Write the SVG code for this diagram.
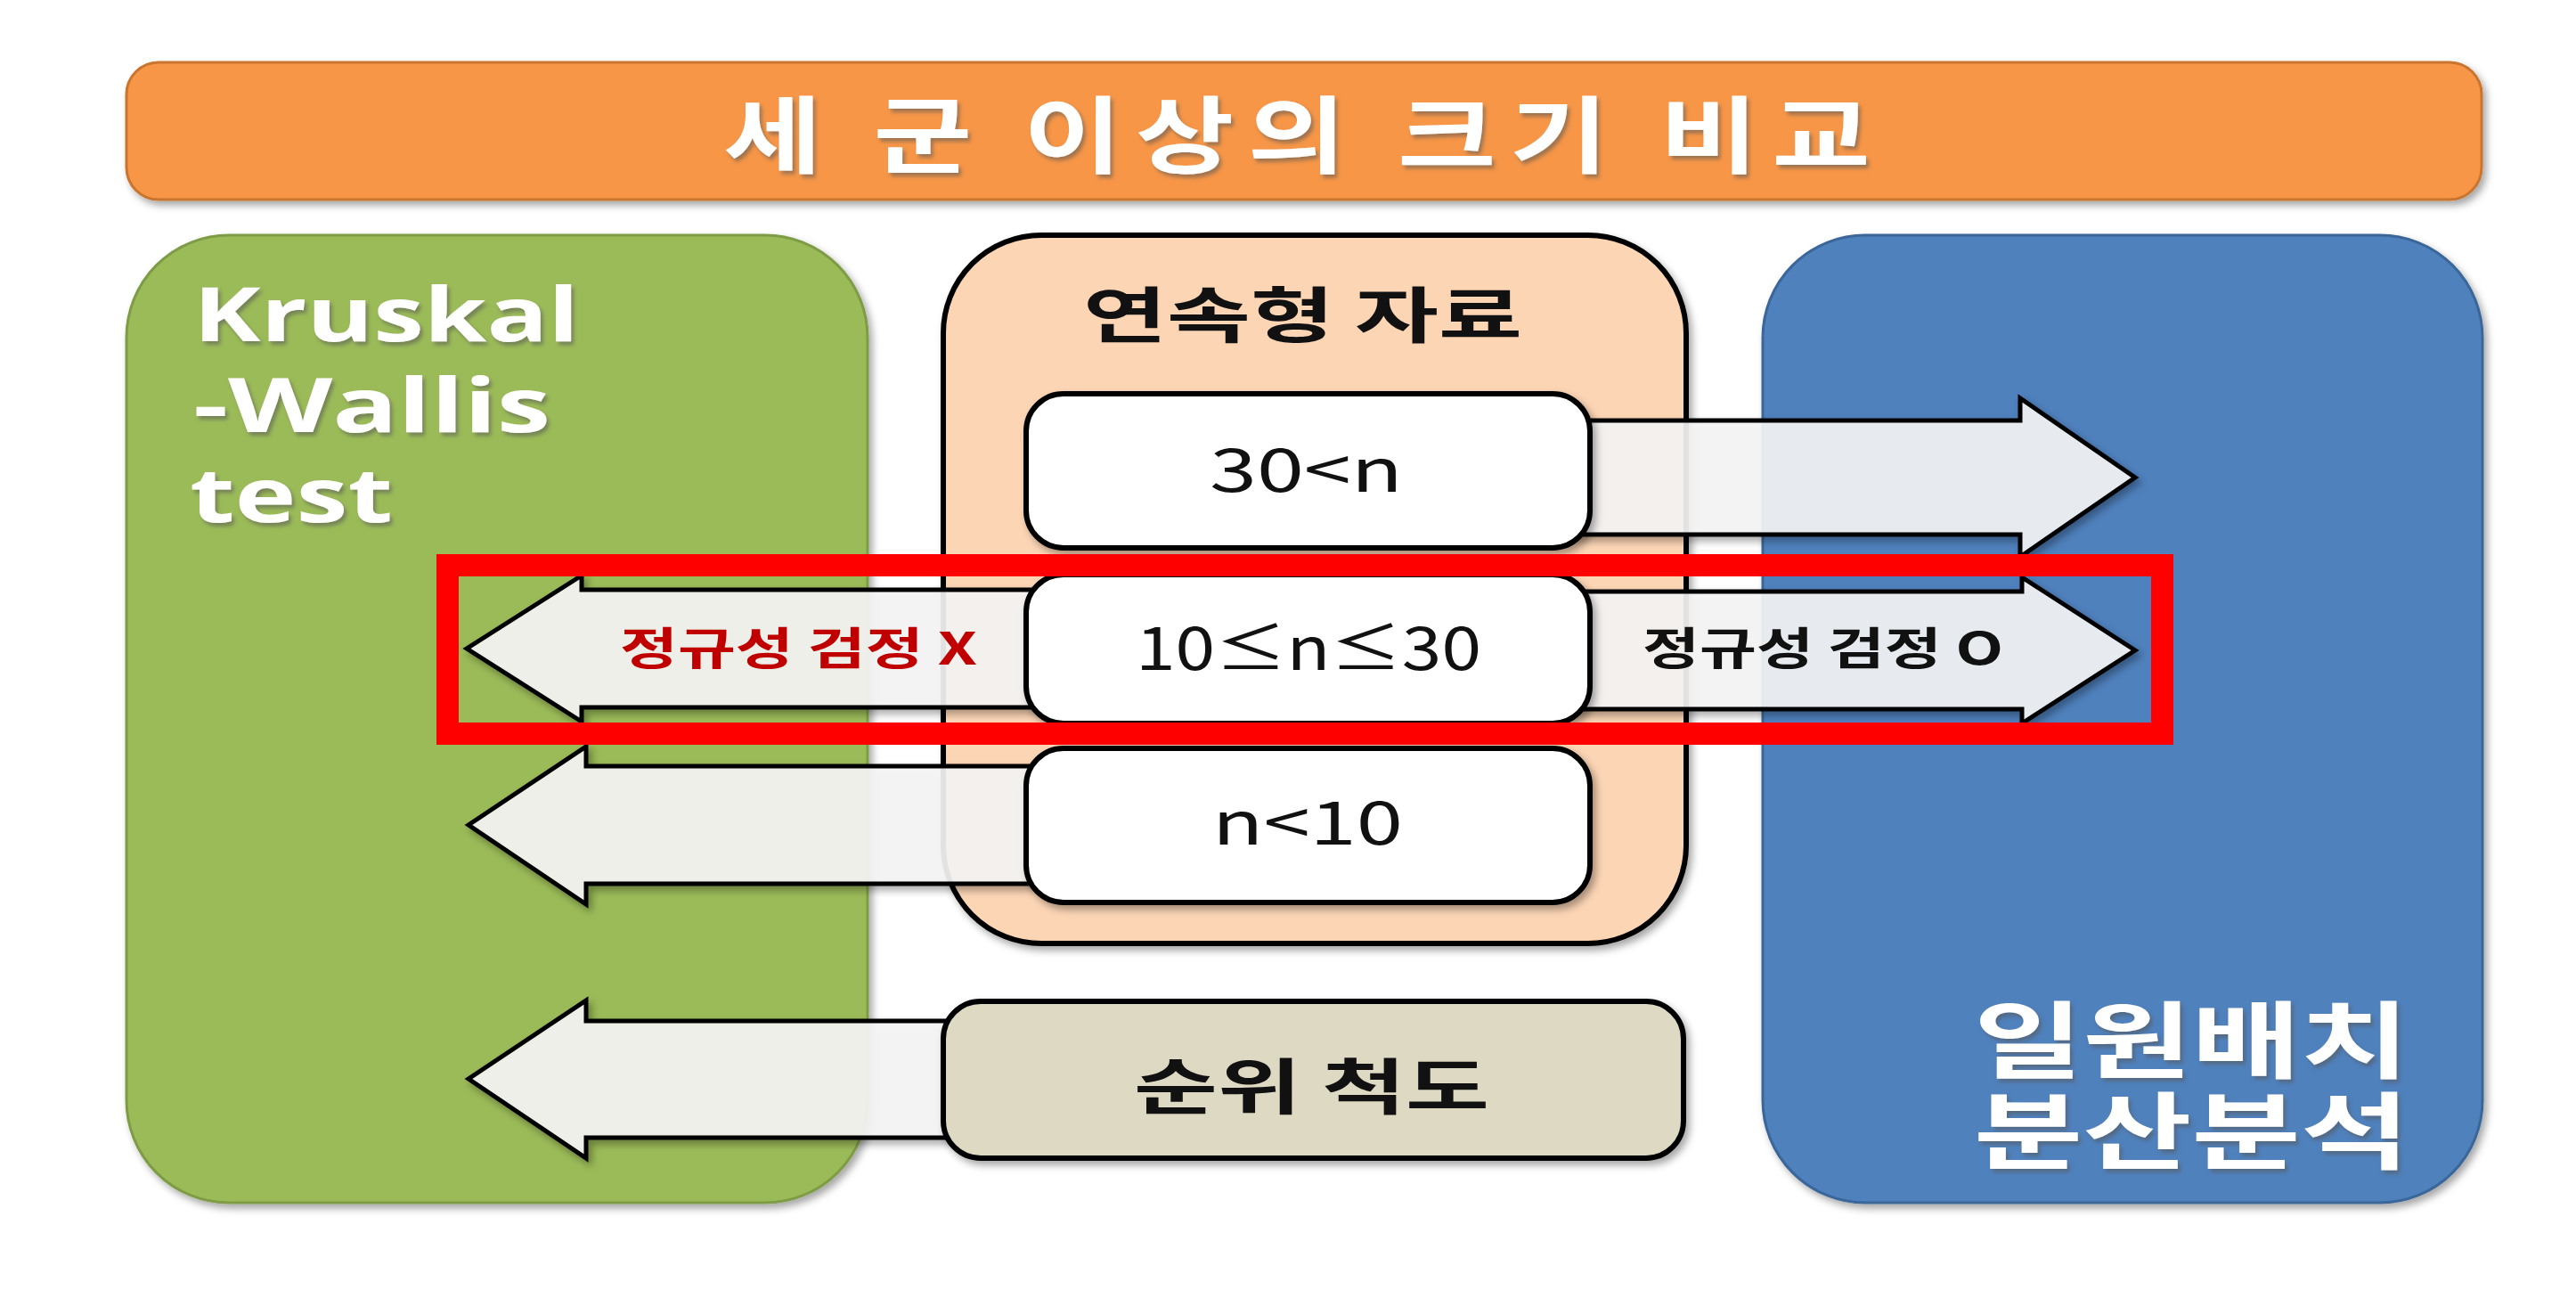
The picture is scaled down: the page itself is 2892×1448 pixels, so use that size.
<svg xmlns="http://www.w3.org/2000/svg" width="2892" height="1448" viewBox="0 0 2892 1448">
<defs>
<style>
.kr{font-family:"Noto Sans CJK KR","Noto Sans",sans-serif;}
.lat{font-family:"Open Sans","Noto Sans",sans-serif;}
.wt{fill:#ffffff;font-weight:bold;filter:url(#tsh);}
.bk{fill:#111111;}
.box{fill:#ffffff;stroke:#000000;stroke-width:6;}
.arrow{fill:#f6f6f6;fill-opacity:0.9;stroke:#000000;stroke-width:5;stroke-linejoin:miter;}
</style>
<filter id="sh" x="-5%" y="-5%" width="115%" height="115%">
<feDropShadow dx="4" dy="5" stdDeviation="4" flood-color="#000000" flood-opacity="0.35"/>
</filter>
<filter id="tsh" x="-5%" y="-10%" width="115%" height="130%">
<feDropShadow dx="3" dy="4" stdDeviation="2" flood-color="#555555" flood-opacity="0.55"/>
</filter>
</defs>
<rect width="2892" height="1448" fill="#ffffff"/>

<g id="title">
<rect x="142" y="70" width="2644" height="154" rx="36" fill="#F79646" stroke="#C9742F" stroke-width="3" filter="url(#sh)"/>
<text class="kr wt" x="812" y="187" font-size="94" letter-spacing="12" textLength="1303" lengthAdjust="spacingAndGlyphs">세 군 이상의 크기 비교</text>
</g>

<g id="kruskal-panel">
<rect x="142" y="264" width="832" height="1086" rx="115" fill="#9BBB59" stroke="#7E9C45" stroke-width="3" filter="url(#sh)"/>
<text class="lat wt" font-size="84" x="217" y="383" textLength="433" lengthAdjust="spacingAndGlyphs">Kruskal</text>
<text class="lat wt" font-size="84" x="217" y="485" textLength="401" lengthAdjust="spacingAndGlyphs">-Wallis</text>
<text class="lat wt" font-size="84" x="213" y="586" textLength="228" lengthAdjust="spacingAndGlyphs">test</text>
</g>

<g id="continuous-panel">
<rect x="1059" y="264" width="834" height="795" rx="110" fill="#FCD5B5" stroke="#000000" stroke-width="6" filter="url(#sh)"/>
<text class="kr bk" font-weight="bold" font-size="68" x="1216" y="379" textLength="493" lengthAdjust="spacingAndGlyphs">연속형 자료</text>
</g>

<g id="anova-panel">
<rect x="1979" y="264" width="808" height="1086" rx="115" fill="#4F81BD" stroke="#3A6699" stroke-width="3" filter="url(#sh)"/>
<text class="kr wt" font-size="94" x="2216" y="1203" textLength="489" lengthAdjust="spacingAndGlyphs">일원배치</text>
<text class="kr wt" font-size="94" x="2216" y="1305" textLength="489" lengthAdjust="spacingAndGlyphs">분산분석</text>
</g>

<g id="connectors">
<polygon id="arrow-30n" class="arrow" filter="url(#sh)" points="1700,472 2268,472 2268,447 2397,536 2268,625 2268,600 1700,600"/>
<polygon id="arrow-mid-right" class="arrow" filter="url(#sh)" points="1700,664 2270,664 2270,648 2397,730 2270,812 2270,796 1700,796"/>
<polygon id="arrow-mid-left" class="arrow" filter="url(#sh)" points="1200,662 653,662 653,646 524,728 653,810 653,794 1200,794"/>
<polygon id="arrow-n10" class="arrow" filter="url(#sh)" points="1200,860 658,860 658,838 526,926 658,1015 658,992 1200,992"/>
<polygon id="arrow-rank" class="arrow" filter="url(#sh)" points="1100,1146 658,1146 658,1123 526,1211 658,1300 658,1277 1100,1277"/>
<text class="kr" fill="#C00000" font-weight="bold" font-size="50" x="696" y="746" textLength="401" lengthAdjust="spacingAndGlyphs">정규성 검정 X</text>
<text class="kr bk" font-weight="bold" font-size="50" x="1844" y="746" textLength="405" lengthAdjust="spacingAndGlyphs">정규성 검정 O</text>
</g>

<g id="box-30n">
<rect class="box" x="1152" y="442" width="633" height="173" rx="42" filter="url(#sh)"/>
<text class="kr bk" font-size="67" x="1358" y="552" textLength="217" lengthAdjust="spacingAndGlyphs">30&lt;n</text>
</g>

<g id="box-10n30">
<rect class="box" x="1152" y="645" width="633" height="167" rx="42" filter="url(#sh)"/>
<text class="kr bk" font-size="67" x="1275" y="752" textLength="388" lengthAdjust="spacingAndGlyphs">10≤n≤30</text>
</g>

<g id="box-n10">
<rect class="box" x="1152" y="840" width="633" height="173" rx="42" filter="url(#sh)"/>
<text class="kr bk" font-size="67" x="1361" y="948" textLength="214" lengthAdjust="spacingAndGlyphs">n&lt;10</text>
</g>

<g id="box-rank">
<rect x="1059" y="1124" width="831" height="176" rx="42" fill="#DDD9C3" stroke="#000000" stroke-width="6" filter="url(#sh)"/>
<text class="kr bk" font-weight="bold" font-size="68" x="1273" y="1245" textLength="399" lengthAdjust="spacingAndGlyphs">순위 척도</text>
</g>

<g id="highlight">
<rect x="502.5" y="634.5" width="1925" height="189" fill="none" stroke="#FF0000" stroke-width="25"/>
</g>
</svg>
